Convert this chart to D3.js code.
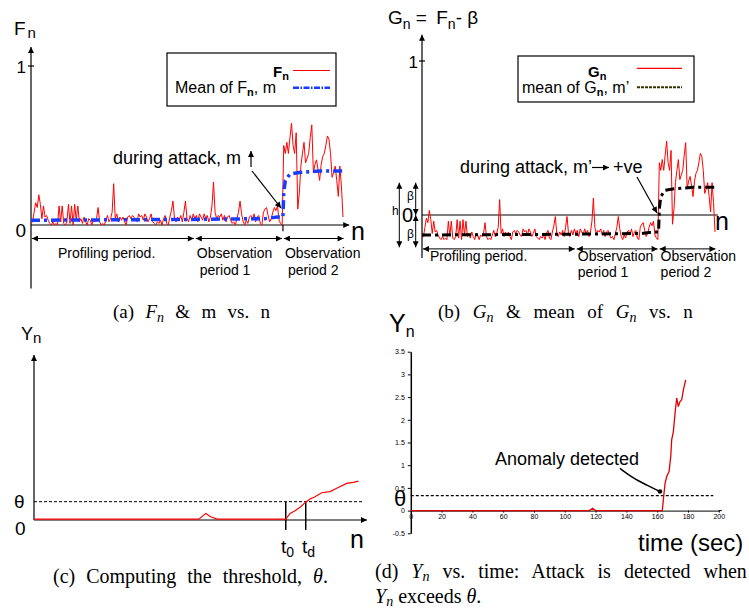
<!DOCTYPE html>
<html>
<head>
<meta charset="utf-8">
<script src="https://cdn.jsdelivr.net/npm/d3@7"></script>
<style>
body { margin: 0; background: #fff; }
svg { display: block; font-family: "Liberation Sans", Arial, sans-serif; }
.cap { font-family: "Liberation Serif", "Times New Roman", serif; font-size: 20px; }
</style>
</head>
<body>
<script>

// F_n per sample n (0..200); G_n = F_n - beta in panel (b)
var fValues = [
    0.01, 0.02, 0.08, 0.14, 0.11, 0.19, 0.13, 0.04, 0.12, 0.05,
    0.06, 0.03, 0.01, 0.00, 0.02, 0.00, 0.01, 0.00, 0.12, 0.02,
    0.12, 0.01, 0.00, 0.02, 0.13, 0.01, 0.12, 0.00, 0.13, 0.03,
    0.12, 0.02, 0.04, 0.01, 0.05, 0.02, 0.00, 0.04, 0.03, 0.00,
    0.03, 0.02, 0.04, 0.11, 0.02, 0.00, 0.01, 0.00, 0.03, 0.06,
    0.02, 0.04, 0.08, 0.26, 0.04, 0.07, 0.02, 0.05, 0.03, 0.05,
    0.02, 0.00, 0.05, 0.06, 0.04, 0.06, 0.05, 0.03, 0.02, 0.07,
    0.05, 0.06, 0.03, 0.07, 0.05, 0.02, 0.04, 0.07, 0.02, 0.01,
    0.00, 0.02, 0.01, 0.03, 0.00, 0.04, 0.06, 0.01, 0.00, 0.05,
    0.09, 0.15, 0.04, 0.02, 0.05, 0.03, 0.06, 0.02, 0.08, 0.15,
    0.04, 0.02, 0.06, 0.03, 0.07, 0.04, 0.06, 0.02, 0.07, 0.05,
    0.03, 0.07, 0.04, 0.06, 0.02, 0.05, 0.12, 0.27, 0.08, 0.04,
    0.06, 0.05, 0.07, 0.03, 0.06, 0.02, 0.05, 0.06, 0.03, 0.01,
    0.02, 0.00, 0.04, 0.08, 0.15, 0.07, 0.02, 0.00, 0.03, 0.01,
    0.05, 0.06, 0.03, 0.07, 0.02, 0.05, 0.06, 0.01, 0.00, 0.08,
    0.10, 0.11, 0.06, 0.02, 0.04, 0.08, 0.11, 0.09, 0.12, 0.03,
    0.01, 0.00, 0.50, 0.45, 0.52, 0.45, 0.55, 0.64, 0.50, 0.45,
    0.58, 0.10, 0.20, 0.37, 0.45, 0.52, 0.39, 0.42, 0.45, 0.55,
    0.63, 0.33, 0.38, 0.41, 0.35, 0.28, 0.38, 0.43, 0.45, 0.50,
    0.56, 0.54, 0.45, 0.30, 0.33, 0.37, 0.28, 0.18, 0.37, 0.24,
    0.05
];
var meanN = [0, 100, 150, 158, 161.5, 162, 163, 166, 172, 185, 200];
var meanF = [0.03, 0.035, 0.04, 0.05, 0.05, 0.2, 0.28, 0.32, 0.33, 0.34, 0.34];
var beta = 0.16;
var hHalf = 0.21;
var periodBounds = [0, 105, 161.5, 201];
var periodNames = ["Profiling period.", "Observation|period 1", "Observation|period 2"];

// panel (c) sketch of Y_n
var cN = [0, 49.5, 51.6, 53, 55, 75.6, 76.9, 78.4, 79.9, 81.4, 82.9, 84.4, 86.4, 88.9, 90.9, 93.9, 95.9, 97.4];
var cY = [0.005, 0.005, 0.04, 0.02, 0.005, 0.005, 0.04, 0.056, 0.077, 0.105, 0.127, 0.141, 0.165, 0.172, 0.192, 0.222, 0.228, 0.236];
var cTheta = 0.111;
var cT0 = 75.6, cTd = 81.6;

// panel (d) Y_n vs time
var dTime = [0, 116, 118, 120, 163.3, 164.2, 165.1, 166.2, 167.7, 168.8, 169.4, 170.5, 171.6, 172.7, 173.7, 174.8, 175.9, 177, 178.5];
var dY = [0, 0, 0.05, 0, 0, 0.31, 0.6, 0.75, 0.86, 1.19, 1.56, 1.74, 2.15, 2.48, 2.29, 2.4, 2.44, 2.66, 2.88];
var dTheta = 0.33;
var dXTicks = [0, 20, 40, 60, 80, 100, 120, 140, 160, 180, 200];
var dYTicks = [-0.5, 0, 0.5, 1, 1.5, 2, 2.5, 3, 3.5];
var pointerT = [135.8, 144.5, 152.1, 161.8];
var pointerY = [0.93, 0.71, 0.58, 0.42];

var svg = d3.select("body").append("svg")
    .attr("width", 749)
    .attr("height", 613);

var defs = svg.append("defs");
defs.append("marker")
    .attr("id", "ah")
    .attr("viewBox", "0 0 10 10")
    .attr("refX", 10).attr("refY", 5)
    .attr("markerWidth", 7).attr("markerHeight", 6)
    .attr("markerUnits", "userSpaceOnUse")
    .attr("orient", "auto-start-reverse")
    .append("path").attr("d", "M0,0L10,5L0,10z");

// text with tspans for subscripts
function rich(parent, x, y, size, parts) {
    var t = parent.append("text").attr("x", x).attr("y", y).style("font-size", size + "px");
    var cur = 0;
    parts.forEach(function (p) {
        if (typeof p === "string") p = { t: p };
        var s = t.append("tspan").text(p.t);
        var off = p.dy || 0;
        if (off !== cur) { s.attr("dy", off - cur); cur = off; }
        if (p.x != null) s.attr("x", p.x);
        if (p.dx) s.attr("dx", p.dx);
        if (p.fs) s.style("font-size", p.fs + "px");
        if (p.i) s.style("font-style", "italic");
        if (p.b) s.style("font-weight", "bold");
    });
    return t;
}

function seg(parent, x1, y1, x2, y2, w) {
    return parent.append("line")
        .attr("x1", x1).attr("y1", y1).attr("x2", x2).attr("y2", y2)
        .attr("stroke", "#000").attr("stroke-width", w || 1.2);
}

function zip(a, b) {
    return a.map(function (v, i) { return [v, b[i]]; });
}

// ---------- panel (a) ----------
var xA = d3.scaleLinear().domain([0, 200]).range([31, 343]);
var yA = d3.scaleLinear().domain([0, 1]).range([225, 66]);
var gA = svg.append("g");

rich(gA, 14, 35, 19, ["F", { t: "n", dy: 3, fs: 15, dx: 2 }]);
seg(gA, xA(0), yA(-0.4), xA(0), yA(1.12)).attr("marker-end", "url(#ah)");
seg(gA, xA(0), yA(0), xA(204), yA(0)).attr("marker-end", "url(#ah)");
seg(gA, xA(0) - 3, yA(1), xA(0) + 3, yA(1));
seg(gA, xA(161.5), yA(0), xA(161.5), yA(-0.04));
gA.append("text").attr("x", 26).attr("y", yA(1) + 7).attr("text-anchor", "end").style("font-size", "17px").text("1");
gA.append("text").attr("x", 26).attr("y", 237).attr("text-anchor", "end").style("font-size", "19px").text("0");
gA.append("text").attr("x", 351).attr("y", 240).style("font-size", "25px").text("n");

gA.append("path")
    .attr("d", d3.line().x(function (d, i) { return xA(i); }).y(function (d) { return yA(d); })(fValues))
    .attr("fill", "none").attr("stroke", "#ff0000").attr("stroke-width", 1);
gA.append("path")
    .attr("d", d3.line().x(function (d) { return xA(d[0]); }).y(function (d) { return yA(d[1]); })(zip(meanN, meanF)))
    .attr("fill", "none").attr("stroke", "#1a3cff").attr("stroke-width", 3.5)
    .attr("stroke-dasharray", "9,4,3,4");

// legend (a)
gA.append("rect").attr("x", 167).attr("y", 53).attr("width", 169).attr("height", 53)
    .attr("fill", "#fff").attr("stroke", "#000").attr("stroke-width", 1.2);
rich(gA, 273, 76.5, 15, [{ t: "F", b: true }, { t: "n", dy: 3, fs: 11, b: true }]);
rich(gA, 175, 93, 16, ["Mean of F", { t: "n", dy: 3, fs: 11, b: true }, ", m"]);
gA.append("line").attr("x1", 293).attr("x2", 330).attr("y1", 70.5).attr("y2", 70.5)
    .attr("stroke", "#ff0000").attr("stroke-width", 1.2);
gA.append("line").attr("x1", 293).attr("x2", 330).attr("y1", 87.7).attr("y2", 87.7)
    .attr("stroke", "#1a3cff").attr("stroke-width", 2.5).attr("stroke-dasharray", "6,1.5,1.5,1.5");

// annotation (a)
rich(gA, 113, 164, 18, ["during attack, m"]);
seg(gA, 251, 167, 251, 151).attr("marker-end", "url(#ah)");
seg(gA, 252, 171, 281, 208).attr("marker-end", "url(#ah)");

// ---------- panel (b) ----------
var xB = d3.scaleLinear().domain([0, 200]).range([422, 715]);
var yB = d3.scaleLinear().domain([0, 1]).range([215, 61]);
var gB = svg.append("g");

rich(gB, 388, 24, 19, ["G", { t: "n", dy: 5, fs: 14 }, " = ", { t: "F", dx: 4 }, { t: "n", dy: 5, fs: 14 }, "- β"]);
seg(gB, xB(0), yB(-0.28), xB(0), yB(1.17)).attr("marker-end", "url(#ah)");
seg(gB, xB(0), yB(0), xB(202), yB(0));
seg(gB, xB(0) - 3, yB(1), xB(0) + 3, yB(1));
gB.append("text").attr("x", 418).attr("y", yB(1) + 7).attr("text-anchor", "end").style("font-size", "17px").text("1");
gB.append("text").attr("x", 402).attr("y", 222).style("font-size", "20px").text("0");
gB.append("text").attr("x", 715).attr("y", 230).style("font-size", "25px").text("n");

// beta / h markers
seg(gB, 399.3, yB(hHalf), 399.3, yB(-hHalf), 1).attr("marker-start", "url(#ah)").attr("marker-end", "url(#ah)");
seg(gB, 415.7, yB(hHalf), 415.7, yB(0), 1).attr("marker-start", "url(#ah)").attr("marker-end", "url(#ah)");
seg(gB, 415.7, yB(0), 415.7, yB(-hHalf), 1).attr("marker-start", "url(#ah)").attr("marker-end", "url(#ah)");
gB.append("text").attr("x", 392).attr("y", 215).style("font-size", "12px").text("h");
gB.append("text").attr("x", 407).attr("y", 200).style("font-size", "12px").text("β");
gB.append("text").attr("x", 407).attr("y", 238).style("font-size", "12px").text("β");

gB.append("path")
    .attr("d", d3.line().x(function (d, i) { return xB(i); }).y(function (d) { return yB(d - beta); })(fValues))
    .attr("fill", "none").attr("stroke", "#ff0000").attr("stroke-width", 1);
gB.append("path")
    .attr("d", d3.line().x(function (d) { return xB(d[0]); }).y(function (d) { return yB(d[1] - beta); })(zip(meanN, meanF)))
    .attr("fill", "none").attr("stroke", "#000").attr("stroke-width", 3)
    .attr("stroke-dasharray", "9,4,3,4");

// legend (b)
gB.append("rect").attr("x", 518).attr("y", 56).attr("width", 176).attr("height", 46)
    .attr("fill", "#fff").attr("stroke", "#000").attr("stroke-width", 1.2);
rich(gB, 588, 77, 15, [{ t: "G", b: true }, { t: "n", dy: 3, fs: 11, b: true }]);
rich(gB, 522, 93, 16, ["mean of G", { t: "n", dy: 3, fs: 11, b: true }, ", m’"]);
gB.append("line").attr("x1", 637).attr("x2", 682).attr("y1", 68.3).attr("y2", 68.3)
    .attr("stroke", "#ff0000").attr("stroke-width", 1.2);
gB.append("line").attr("x1", 637).attr("x2", 682).attr("y1", 87.3).attr("y2", 87.3)
    .attr("stroke", "#333300").attr("stroke-width", 2).attr("stroke-dasharray", "3,1");

// annotation (b)
rich(gB, 460, 173, 18, ["during attack, m’"]);
seg(gB, 592, 167.5, 609, 167.5).attr("marker-end", "url(#ah)");
rich(gB, 613, 173, 18, ["+ve"]);
seg(gB, 637, 177, 657, 213).attr("marker-end", "url(#ah)");

// period arrows for (a) and (b)
[[gA, xA, yA(-0.085), 258, 275], [gB, xB, yB(-0.22), 261, 277]].forEach(function (p) {
    var g = p[0], x = p[1], y = p[2];
    d3.range(periodNames.length).forEach(function (i) {
        seg(g, x(periodBounds[i]) + 1, y, x(periodBounds[i + 1]) - 1, y, 1)
            .attr("marker-start", "url(#ah)").attr("marker-end", "url(#ah)");
        var lines = periodNames[i].split("|");
        var lx = i === 0 ? x(periodBounds[i]) + (g === gA ? 27 : 8) : x(periodBounds[i]) + 2;
        lines.forEach(function (s, k) {
            g.append("text").attr("x", lx + (k === 1 && g === gA ? 3 : 0))
                .attr("y", k === 0 ? p[3] : p[4])
                .style("font-size", "14px").text(s);
        });
    });
});

// ---------- panel (c) ----------
var xC = d3.scaleLinear().domain([0, 100]).range([34, 367]);
var yC = d3.scaleLinear().domain([0, 1]).range([520, 355]);
var gC = svg.append("g");

rich(gC, 21, 340, 18, ["Y", { t: "n", dy: 3, fs: 15 }]);
seg(gC, xC(0), yC(0), xC(0), yC(1)).attr("marker-end", "url(#ah)");
seg(gC, xC(0), yC(0), xC(100), yC(0)).attr("marker-end", "url(#ah)");
gC.append("line").attr("x1", xC(0)).attr("x2", xC(98.8)).attr("y1", yC(cTheta)).attr("y2", yC(cTheta))
    .attr("stroke", "#000").attr("stroke-width", 1).attr("stroke-dasharray", "3,2");
seg(gC, xC(cT0), yC(cTheta), xC(cT0), yC(-0.06), 1.5);
seg(gC, xC(cTd), yC(cTheta), xC(cTd), yC(-0.06), 1.5);
gC.append("path")
    .attr("d", d3.line().x(function (d) { return xC(d[0]); }).y(function (d) { return yC(d[1]); })(zip(cN, cY)))
    .attr("fill", "none").attr("stroke", "#ff0000").attr("stroke-width", 1.2);
gC.append("text").attr("x", 14).attr("y", 508).style("font-size", "19px").text("θ");
gC.append("text").attr("x", 15).attr("y", 535).style("font-size", "19px").text("0");
rich(gC, 281, 553, 19, ["t", { t: "0", dy: 4, fs: 14 }]);
rich(gC, 302, 553, 19, ["t", { t: "d", dy: 4, fs: 14 }]);
gC.append("text").attr("x", 350).attr("y", 548).style("font-size", "25px").text("n");

// ---------- panel (d) ----------
var xD = d3.scaleLinear().domain([0, 200]).range([410.8, 718.8]);
var yD = d3.scaleLinear().domain([-0.5, 3.5]).range([533.3, 351.7]);
var gD = svg.append("g");

gD.append("g")
    .attr("transform", "translate(0," + yD(0) + ")")
    .call(d3.axisBottom(xD).tickValues(dXTicks).tickSize(2).tickSizeOuter(0).tickPadding(1))
    .call(function (g) { g.selectAll("text").style("font-size", "7px").style("font-family", "Liberation Sans, Arial, sans-serif"); });
gD.append("g")
    .attr("transform", "translate(" + xD(0) + ",0)")
    .call(d3.axisLeft(yD).tickValues(dYTicks).tickSize(3).tickSizeOuter(0).tickPadding(3)
        .tickFormat(function (d) { return String(d); }))
    .call(function (g) {
        g.selectAll("text").style("font-size", "7px").style("font-family", "Liberation Sans, Arial, sans-serif");
        g.select(".domain").attr("stroke-width", 1.5);
    });
seg(gD, xD(200), yD(0), xD(202), yD(0), 1);

gD.append("line").attr("x1", xD(0)).attr("x2", xD(196.4)).attr("y1", yD(dTheta)).attr("y2", yD(dTheta))
    .attr("stroke", "#000").attr("stroke-width", 1.2).attr("stroke-dasharray", "3,2");
gD.append("path")
    .attr("d", d3.line().x(function (d) { return xD(d[0]); }).y(function (d) { return yD(d[1]); })(zip(dTime, dY)))
    .attr("fill", "none").attr("stroke", "#e00000").attr("stroke-width", 1.3);

gD.append("path")
    .attr("d", d3.line().curve(d3.curveBasis).x(function (d) { return xD(d[0]); }).y(function (d) { return yD(d[1]); })(zip(pointerT, pointerY)))
    .attr("fill", "none").attr("stroke", "#000").attr("stroke-width", 1.5);
gD.append("circle").attr("cx", xD(pointerT[3])).attr("cy", yD(pointerY[3])).attr("r", 2.3);

rich(gD, 389, 332, 25, ["Y", { t: "n", dy: 5, fs: 16 }]);
gD.append("text").attr("x", 394).attr("y", 506).style("font-size", "22px").text("θ");
gD.append("text").attr("x", 495).attr("y", 465).style("font-size", "18px").text("Anomaly detected");
gD.append("text").attr("x", 638).attr("y", 551).style("font-size", "24px").text("time (sec)");

// ---------- captions ----------
var cap = svg.append("g").attr("class", "cap");
rich(cap, 113, 318, 19, [{ t: "(a)" }, { t: "F", i: true, x: 145.4 }, { t: "n", i: true, dy: 4, fs: 14 },
    { t: "&", x: 175.3 }, { t: "m", x: 201.4 }, { t: "vs.", x: 227.5 }, { t: "n", x: 260.4 }]);
rich(cap, 438, 318, 19, [{ t: "(b)" }, { t: "G", i: true, x: 472.8 }, { t: "n", i: true, dy: 4, fs: 14 },
    { t: "&", x: 506.1 }, { t: "mean", x: 533.5 }, { t: "of", x: 587.3 }, { t: "G", i: true, x: 615.7 },
    { t: "n", i: true, dy: 4, fs: 14 }, { t: "vs.", x: 649 }, { t: "n", x: 683.2 }]);
rich(cap, 53, 583, 20, ["(c) Computing the threshold, ", { t: "θ", i: true }, "."]).style("word-spacing", "6px");
rich(cap, 375, 578, 20, ["(d) ", { t: "Y", i: true }, { t: "n", i: true, dy: 3, fs: 14 },
    " vs. time: Attack is detected when"]).style("word-spacing", "8px");
rich(cap, 375, 603, 20, [{ t: "Y", i: true }, { t: "n", i: true, dy: 3, fs: 14 }, " exceeds ", { t: "θ", i: true }, "."]);

</script>
</body>
</html>
